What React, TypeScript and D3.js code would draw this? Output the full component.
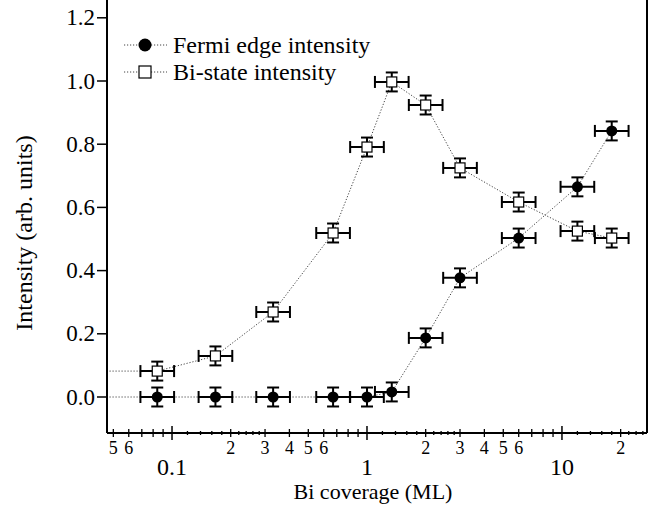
import React from "react";
import * as d3 from "d3";

const coverage = [0.084, 0.167, 0.33, 0.67, 1.0, 1.34, 2.0, 3.0, 6.0, 12, 18];
const fermiEdge = [0, 0, 0, 0, 0, 0.016, 0.187, 0.377, 0.503, 0.665, 0.842];
const biState = [0.082, 0.13, 0.269, 0.519, 0.791, 0.997, 0.924, 0.725, 0.617, 0.525, 0.503];
const yErr = 0.03;
const xErrFactor = 1.22;

const yTicks = [0, 0.2, 0.4, 0.6, 0.8, 1.0, 1.2];
const majorXTicks = [0.1, 1, 10];
const labeledMinorX = [0.05, 0.06, 0.2, 0.3, 0.4, 0.5, 0.6, 2, 3, 4, 5, 6, 20];
const unlabeledMinorX = [0.07, 0.08, 0.09, 0.7, 0.8, 0.9, 7, 8, 9];
const subMinorX = [0.12, 0.14, 0.16, 0.18, 0.22, 0.24, 0.26, 0.28, 1.2, 1.4, 1.6, 1.8, 2.2, 2.4, 2.6, 2.8, 12, 14, 16, 18, 22, 24, 26];

const seriesNames = ["Fermi edge intensity", "Bi-state intensity"];

const W = 652, H = 506;
const L = 107, R = 647, B = 433;
const FONT = "Liberation Serif";
const tStyle = { fontFamily: FONT };

export default function App() {
  const x = d3.scaleLog().domain([0.0464, 27.3]).range([L, R]);
  const y = d3.scaleLinear().domain([0, 1.2]).range([397, 397 - 1.2 * 316]);

  const line = d3.line<[number, number]>().x(d => x(d[0])).y(d => y(d[1]));
  const pts = (vals: number[]) => coverage.map((c, i) => [c, vals[i]] as [number, number]);
  const withLead = (vals: number[]) => [[x.domain()[0] * 1.03, vals[0]] as [number, number], ...pts(vals)];

  const errBars = (vals: number[], key: string) =>
    coverage.map((c, i) => {
      const cx = x(c), cy = y(vals[i]);
      const x0 = x(c / xErrFactor), x1 = x(c * xErrFactor);
      const y0 = y(vals[i] - yErr), y1 = y(vals[i] + yErr);
      const cap = 6;
      return (
        <g key={key + i} stroke="#000" strokeWidth={2} fill="none">
          <line x1={x0} x2={x1} y1={cy} y2={cy} />
          <line x1={x0} x2={x0} y1={cy - cap} y2={cy + cap} />
          <line x1={x1} x2={x1} y1={cy - cap} y2={cy + cap} />
          <line x1={cx} x2={cx} y1={y0} y2={y1} />
          <line x1={cx - cap} x2={cx + cap} y1={y0} y2={y0} />
          <line x1={cx - cap} x2={cx + cap} y1={y1} y2={y1} />
        </g>
      );
    });

  const fmtMinor = (v: number) => {
    const e = Math.floor(Math.log10(v) + 1e-9);
    return String(Math.round(v / Math.pow(10, e)));
  };

  return (
    <svg width={W} height={H} style={{ position: "absolute", left: 0, top: 0, background: "#fff" }}>
      <rect width={W} height={H} fill="#fff" />
      <g stroke="#000" strokeWidth={2} fill="none">
        <line x1={L} x2={L} y1={0} y2={B} />
        <line x1={R} x2={R} y1={0} y2={B} />
        <line x1={L} x2={R} y1={B} y2={B} />
      </g>
      {yTicks.map(t => (
        <g key={"yt" + t}>
          <line x1={L - 10} x2={L} y1={y(t)} y2={y(t)} stroke="#000" strokeWidth={1.5} />
          <text x={L - 12} y={y(t) + 7.5} fontSize={23} textAnchor="end" style={tStyle}>{t.toFixed(1)}</text>
        </g>
      ))}
      {majorXTicks.map(t => (
        <g key={"xm" + t}>
          <line x1={x(t)} x2={x(t)} y1={B - 7} y2={B + 7} stroke="#000" strokeWidth={1.5} />
          <text x={x(t)} y={475} fontSize={24} textAnchor="middle" style={tStyle}>{String(t)}</text>
        </g>
      ))}
      {labeledMinorX.map(t => (
        <g key={"xl" + t}>
          <line x1={x(t)} x2={x(t)} y1={B - 4} y2={B + 4} stroke="#000" strokeWidth={1.3} />
          <text x={x(t)} y={454} fontSize={18} textAnchor="middle" style={tStyle}>{fmtMinor(t)}</text>
        </g>
      ))}
      {unlabeledMinorX.map(t => (
        <line key={"xu" + t} x1={x(t)} x2={x(t)} y1={B - 4} y2={B + 4} stroke="#000" strokeWidth={1.3} />
      ))}
      {subMinorX.map(t => (
        <line key={"xs" + t} x1={x(t)} x2={x(t)} y1={B - 2} y2={B + 2} stroke="#000" strokeWidth={1.3} />
      ))}
      <text x={(L + R) / 2 - 4} y={499} fontSize={22} textAnchor="middle" style={tStyle}>Bi coverage (ML)</text>
      <text transform={`translate(32,${233}) rotate(-90)`} fontSize={24} textAnchor="middle" style={tStyle}>Intensity (arb. units)</text>

      <path d={line(withLead(fermiEdge)) || ""} fill="none" stroke="#444" strokeWidth={1} strokeDasharray="1.2,1.8" />
      <path d={line(withLead(biState)) || ""} fill="none" stroke="#444" strokeWidth={1} strokeDasharray="1.2,1.8" />

      {errBars(fermiEdge, "f")}
      {errBars(biState, "b")}

      {coverage.map((c, i) => (
        <circle key={"fc" + i} cx={x(c)} cy={y(fermiEdge[i])} r={5.5} fill="#000" />
      ))}
      {coverage.map((c, i) => (
        <rect key={"bs" + i} x={x(c) - 5} y={y(biState[i]) - 5} width={10} height={10} fill="#fff" stroke="#000" strokeWidth={1.2} />
      ))}

      <g>
        <line x1={124} x2={167} y1={45} y2={45} stroke="#444" strokeWidth={1} strokeDasharray="1.2,1.8" />
        <circle cx={145} cy={45} r={6.5} fill="#000" />
        <text x={173} y={53} fontSize={24} style={tStyle}>{seriesNames[0]}</text>
        <line x1={124} x2={167} y1={72} y2={72} stroke="#444" strokeWidth={1} strokeDasharray="1.2,1.8" />
        <rect x={139} y={66} width={12} height={12} fill="#fff" stroke="#000" strokeWidth={1.2} />
        <text x={173} y={80} fontSize={24} style={tStyle}>{seriesNames[1]}</text>
      </g>
    </svg>
  );
}
